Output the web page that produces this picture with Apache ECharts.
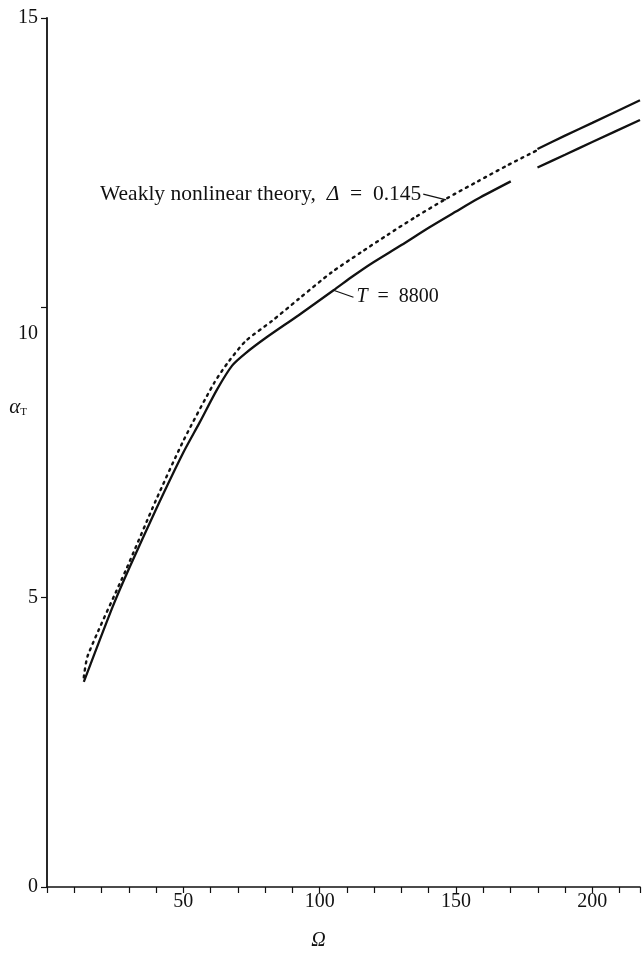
<!DOCTYPE html>
<html>
<head>
<meta charset="utf-8">
<script src="https://cdn.jsdelivr.net/npm/echarts@6/dist/echarts.min.js"></script>
<style>
  html, body { margin: 0; padding: 0; background: #fff; }
  #chart { width: 643px; height: 956px; }
</style>
</head>
<body>
<div id="chart"></div>
<script>
// Omega values and alpha_T for the T = 8800 curve (two pieces with a gap)
const omegaT1 = [13.5, 24.1, 30.3, 40.0, 50.0, 56.0, 62.4, 67.9, 73.0, 80.3, 92.3, 105.1, 112.4, 118.6, 130.0, 140.0, 150.0, 158.0, 170.1];
const alphaT1 = [3.54, 4.84, 5.52, 6.52, 7.50, 8.02, 8.59, 9.00, 9.22, 9.48, 9.87, 10.30, 10.55, 10.75, 11.08, 11.38, 11.66, 11.88, 12.18];
const omegaT2 = [179.9, 190.0, 200.0, 217.5];
const alphaT2 = [12.42, 12.64, 12.86, 13.24];

// Weakly nonlinear theory, Delta = 0.145 (dotted), and its solid continuation
const omegaW = [13.5, 15.0, 29.2, 40.0, 50.0, 61.3, 66.8, 73.0, 82.5, 92.3, 104.4, 115.0, 125.0, 135.0, 146.4, 158.0, 169.0, 179.9];
const alphaW = [3.62, 4.00, 5.50, 6.68, 7.70, 8.70, 9.08, 9.43, 9.77, 10.15, 10.61, 10.95, 11.26, 11.56, 11.88, 12.18, 12.46, 12.72];
const omegaW2 = [179.9, 190.0, 200.0, 217.5];
const alphaW2 = [12.74, 12.97, 13.19, 13.58];

// Axis ticks
const xTickLabels = [50, 100, 150, 200];
const yTickLabels = [0, 5, 10, 15];

const pairs = (xs, ys) => xs.map((x, i) => [x, ys[i]]);

const serif = '"Liberation Serif", "DejaVu Serif", serif';
const ink = '#111';
const fs = 20;

const chart = echarts.init(document.getElementById('chart'));

const lineSeries = (data, dotted) => ({
  type: 'line',
  data: data,
  showSymbol: false,
  smooth: 0.25,
  silent: true,
  lineStyle: dotted
    ? { color: ink, width: 2.4, type: [2, 5], cap: 'round' }
    : { color: ink, width: 2.3 },
  z: 3
});

chart.setOption({
  animation: false,
  backgroundColor: '#fff',
  grid: { left: 47, right: 0, top: 18, bottom: 49, containLabel: false },
  xAxis: {
    type: 'value',
    min: 0, max: 217.5, interval: 10,
    name: 'Ω',
    nameLocation: 'middle',
    nameGap: 44,
    nameMoveOverlap: false,
    nameTextStyle: { fontFamily: serif, fontSize: fs, fontStyle: 'italic', color: ink, padding: [0, 50, 0, 0] },
    axisLine: { lineStyle: { color: ink, width: 1.6 } },
    axisTick: { length: 6, lineStyle: { color: ink, width: 1.2 } },
    axisLabel: {
      fontFamily: serif, fontSize: fs, color: ink, margin: 5,
      formatter: v => (xTickLabels.indexOf(v) >= 0 ? String(v) : '')
    },
    splitLine: { show: false }
  },
  yAxis: {
    type: 'value',
    min: 0, max: 15, interval: 5,
    name: '{a|α}{s|T}',
    nameLocation: 'middle',
    nameGap: 20,
    nameRotate: 0,
    nameMoveOverlap: false,
    nameTextStyle: {
      padding: [0, 0, 90, 0],
      rich: {
        a: { fontFamily: serif, fontSize: 21, fontStyle: 'italic', color: ink },
        s: { fontFamily: serif, fontSize: 11, color: ink, verticalAlign: 'bottom', padding: [9, 0, 0, 0] }
      }
    },
    axisLine: { lineStyle: { color: ink, width: 1.8 } },
    axisTick: { length: 6, lineStyle: { color: ink, width: 1.2 } },
    axisLabel: {
      fontFamily: serif, fontSize: fs, color: ink, margin: 9,
      formatter: v => {
        if (yTickLabels.indexOf(v) < 0) return '';
        return v === 10 ? '{low|10}' : String(v);
      },
      rich: {
        low: { fontFamily: serif, fontSize: fs, color: ink, padding: [52, 0, 0, 0] }
      }
    },
    splitLine: { show: false }
  },
  series: [
    lineSeries(pairs(omegaT1, alphaT1), false),
    lineSeries(pairs(omegaT2, alphaT2), false),
    lineSeries(pairs(omegaW, alphaW), true),
    lineSeries(pairs(omegaW2, alphaW2), false),
    {
      type: 'line',
      data: [],
      silent: true,
      markLine: {
        silent: true,
        symbol: 'none',
        label: { show: false },
        lineStyle: { color: ink, width: 1.2, type: 'solid' },
        data: [
          [{ coord: [138.0, 11.96] }, { coord: [146.4, 11.86] }],
          [{ coord: [105.1, 10.30] }, { coord: [112.4, 10.18] }]
        ]
      }
    }
  ]
});

// Curve annotations placed in data coordinates
const labelAt = (coord, text, align, size) => {
  const p = chart.convertToPixel({ gridIndex: 0 }, coord);
  return {
    type: 'text',
    x: p[0], y: p[1],
    style: {
      text: text,
      rich: {
        n: { fontFamily: serif, fontSize: size, fill: ink },
        i: { fontFamily: serif, fontSize: size, fontStyle: 'italic', fill: ink }
      },
      align: align,
      verticalAlign: 'middle',
      fontFamily: serif,
      fontSize: size,
      fill: ink
    },
    silent: true
  };
};

chart.setOption({
  graphic: [
    labelAt([137.3, 11.95], '{n|Weakly nonlinear theory,  }{i|Δ}{n|  =  0.145}', 'right', 21.5),
    labelAt([113.5, 10.18], '{i|T}{n|  =  8800}', 'left', fs)
  ]
});
</script>
</body>
</html>
